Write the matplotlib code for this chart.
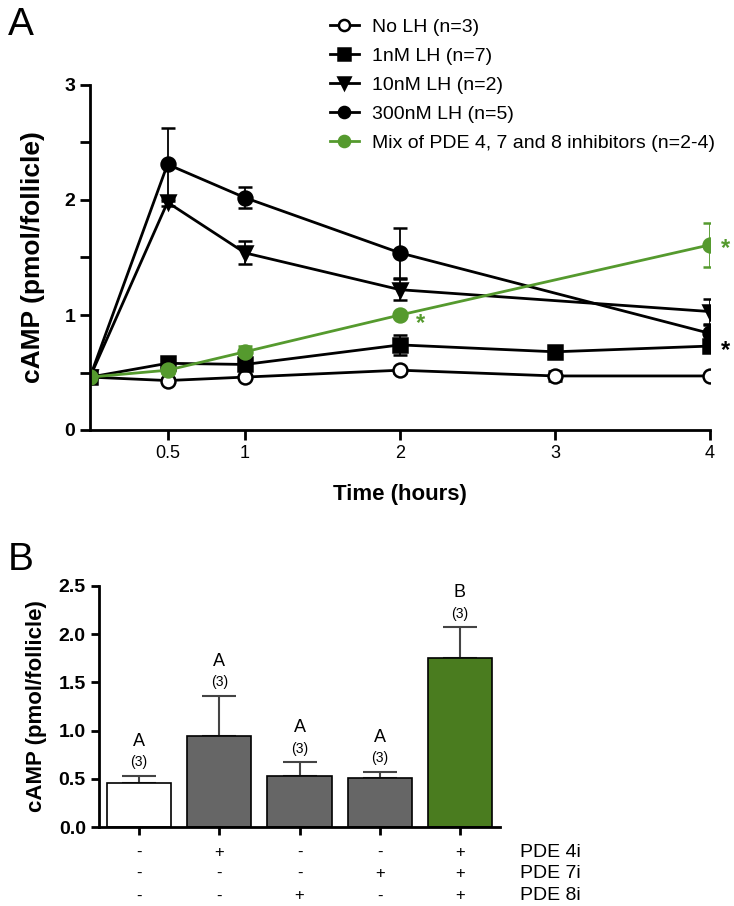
import matplotlib
matplotlib.use('Agg')
import matplotlib.pyplot as plt
from matplotlib.ticker import MultipleLocator
from matplotlib.lines import Line2D

plt.rcParams['font.family'] = ['Liberation Sans', 'DejaVu Sans']

# --- Panel A: time course ---
t_full = [0, 0.5, 1, 2, 3, 4]
t_short = [0, 0.5, 1, 2, 4]

nolh = [0.46, 0.43, 0.46, 0.52, 0.47, 0.47]
nolh_err = [0.02, 0.02, 0.02, 0.02, 0.04, 0.02]
lh1 = [0.46, 0.58, 0.57, 0.74, 0.68, 0.73]
lh1_err = [0.02, 0.03, 0.03, 0.09, 0.04, 0.03]
lh10 = [0.46, 1.98, 1.54, 1.22, 1.03]
lh10_err = [0.02, 0.03, 0.10, 0.09, 0.11]
lh300 = [0.46, 2.31, 2.02, 1.54, 0.84]
lh300_err = [0.02, 0.32, 0.09, 0.22, 0.07]
mix = [0.46, 0.52, 0.68, 1.00, 1.61]
mix_err = [0.02, 0.02, 0.05, 0.02, 0.19]

labels_a = ['No LH (n=3)', '1nM LH (n=7)', '10nM LH (n=2)', '300nM LH (n=5)',
            'Mix of PDE 4, 7 and 8 inhibitors (n=2-4)']

# --- Panel B: bars ---
bar_vals = [0.46, 0.94, 0.53, 0.51, 1.75]
bar_errs = [0.07, 0.42, 0.14, 0.06, 0.32]
bar_letters = ['A', 'A', 'A', 'A', 'B']
bar_n = ['(3)', '(3)', '(3)', '(3)', '(3)']
pde4 = ['-', '+', '-', '-', '+']
pde7 = ['-', '-', '-', '+', '+']
pde8 = ['-', '-', '+', '-', '+']
row_names = ['PDE 4i', 'PDE 7i', 'PDE 8i']

green_line = '#559a2e'
green_bar = '#4a7c1f'
gray_bar = '#666666'

fig = plt.figure(figsize=(7.34, 9.06), dpi=100)

ax = fig.add_axes([90/734, 1-430/906, 620/734, 345/906])
series = [
    (t_full, nolh, nolh_err, 'o', 'white', 'black'),
    (t_full, lh1, lh1_err, 's', 'black', 'black'),
    (t_short, lh10, lh10_err, 'v', 'black', 'black'),
    (t_short, lh300, lh300_err, 'o', 'black', 'black'),
    (t_short, mix, mix_err, 'o', green_line, green_line),
]
handles = []
for (tt, yy, ee, mk, fc, col), lab in zip(series, labels_a):
    ax.errorbar(tt, yy, yerr=ee, color=col, marker=mk, markersize=10,
                markerfacecolor=fc, markeredgecolor=col, markeredgewidth=1.8,
                linewidth=2, capsize=5, elinewidth=1.3, capthick=1.3)
    handles.append(Line2D([], [], color=col, marker=mk, markersize=8,
                          markerfacecolor=fc, markeredgecolor=col,
                          markeredgewidth=1.8, linewidth=2, label=lab))

ax.text(2.13, 0.93, '*', color=green_line, fontsize=17, fontweight='bold', ha='center', va='center')
ax.text(4.1, 1.58, '*', color=green_line, fontsize=17, fontweight='bold', ha='center', va='center')
ax.text(4.1, 0.69, '*', color='black', fontsize=17, fontweight='bold', ha='center', va='center')

ax.set_xlim(0, 4)
ax.set_ylim(0, 3)
ax.set_xticks([0.5, 1, 2, 3, 4])
ax.set_xticklabels(['0.5', '1', '2', '3', '4'], fontsize=13)
ax.set_yticks([0, 1, 2, 3])
ax.yaxis.set_minor_locator(MultipleLocator(0.5))
for lb in ax.get_yticklabels():
    lb.set_fontweight('bold')
    lb.set_fontsize(14)
ax.tick_params(axis='both', which='major', length=7, width=2, direction='out')
ax.tick_params(axis='y', which='minor', length=7, width=2, direction='out')
for s in ['top', 'right']:
    ax.spines[s].set_visible(False)
for s in ['left', 'bottom']:
    ax.spines[s].set_linewidth(2)
ax.set_xlabel('Time (hours)', fontsize=16, fontweight='bold', labelpad=16)
ax.set_ylabel('cAMP (pmol/follicle)', fontsize=19, fontweight='bold', labelpad=14)

fig.legend(handles=handles, loc='upper left', bbox_to_anchor=(312/734, 1-1/906),
           frameon=False, fontsize=14, handlelength=1.5, labelspacing=0.58,
           handletextpad=0.7)

fig.text(8/734, 1-35/906, 'A', fontsize=28)

# --- Panel B ---
bx = fig.add_axes([99/734, 1-827/906, 401/734, 241/906])
xpos = list(range(len(bar_vals)))
colors = ['white', gray_bar, gray_bar, gray_bar, green_bar]
bx.bar(xpos, bar_vals, width=0.8, color=colors, edgecolor='black', linewidth=1.2, zorder=2)
bx.errorbar(xpos, bar_vals, yerr=[[0]*5, bar_errs], fmt='none', ecolor='#444444',
            elinewidth=1.5, capsize=12, capthick=1.5, zorder=1)
for x, v, e, let, n in zip(xpos, bar_vals, bar_errs, bar_letters, bar_n):
    bx.annotate(let, (x, v + e), xytext=(0, 25), textcoords='offset points',
                ha='center', va='center', fontsize=13)
    bx.annotate(n, (x, v + e), xytext=(0, 10), textcoords='offset points',
                ha='center', va='center', fontsize=10)

bx.set_xlim(-0.5, 4.5)
bx.set_ylim(0, 2.5)
bx.set_yticks([0, 0.5, 1.0, 1.5, 2.0, 2.5])
bx.set_yticklabels(['0.0', '0.5', '1.0', '1.5', '2.0', '2.5'], fontsize=14, fontweight='bold')
bx.set_xticks(xpos)
bx.set_xticklabels([])
bx.tick_params(axis='both', length=6, width=2, direction='out')
for s in ['top', 'right']:
    bx.spines[s].set_visible(False)
for s in ['left', 'bottom']:
    bx.spines[s].set_linewidth(2)
bx.set_ylabel('cAMP (pmol/follicle)', fontsize=16, fontweight='bold', labelpad=8)

trans = bx.get_xaxis_transform()
row_y = [-0.104, -0.191, -0.286]
for row, yy, name in zip([pde4, pde7, pde8], row_y, row_names):
    for x, sgn in zip(xpos, row):
        bx.text(x, yy, sgn, transform=trans, ha='center', va='center', fontsize=12)
    bx.text(4.75, yy, name, transform=trans, ha='left', va='center', fontsize=14)

fig.text(8/734, 1-570/906, 'B', fontsize=28)

fig.savefig('out.png', dpi=100)
